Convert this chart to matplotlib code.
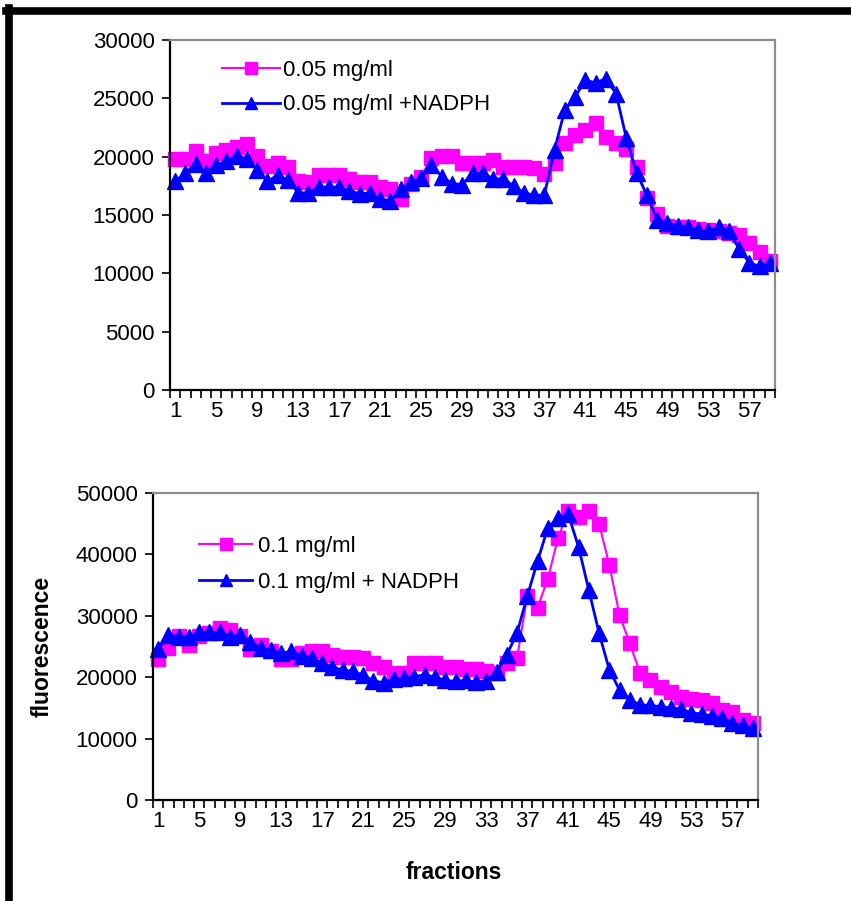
import numpy as np
import matplotlib
matplotlib.use('Agg')
import matplotlib.pyplot as plt
from matplotlib.lines import Line2D

plt.rcParams['font.family'] = ['Liberation Sans', 'DejaVu Sans']

fractions = np.arange(1, 60)
tick_labels = [str(i) for i in range(1, 58, 4)]

# top panel, 0.05 mg/ml
top_plain = [19800, 19800, 20500, 19600, 20300, 20600, 20800, 21100, 20100, 19200,
             19500, 19100, 17900, 17800, 18400, 18400, 18400, 18100, 17800, 17800,
             17400, 17200, 16400, 17700, 18300, 19900, 20100, 20100, 19500, 19500,
             19500, 19700, 19100, 19100, 19100, 19000, 18500, 19500, 21200, 21900,
             22300, 22900, 21700, 21200, 20700, 19100, 16500, 15100, 14100, 14000,
             14000, 13800, 13700, 13600, 13500, 13300, 12600, 11800, 11100]
top_nadph = [17900, 18600, 19400, 18600, 19300, 19600, 20100, 19800, 18900, 17900,
             18400, 18000, 16900, 16900, 17400, 17400, 17400, 17100, 16800, 16900,
             16400, 16200, 17200, 17800, 18200, 19300, 18300, 17700, 17600, 18600,
             18600, 18100, 18100, 17500, 16900, 16700, 16700, 20600, 24000, 25100,
             26600, 26300, 26700, 25400, 21600, 18600, 16700, 14600, 14300, 14100,
             14000, 13700, 13600, 14000, 13600, 12100, 10900, 10600, 10900]

# bottom panel, 0.1 mg/ml
bot_plain = [23000, 24700, 26700, 25200, 26700, 27200, 28000, 27700, 26700, 24600,
             25200, 24300, 22900, 22900, 24000, 24300, 24300, 23600, 23300, 23300,
             23100, 22300, 21700, 20700, 20700, 22300, 22300, 22300, 21700, 21700,
             21300, 21300, 21000, 20700, 22300, 23100, 33200, 31300, 36000, 42700,
             47000, 46100, 47000, 45000, 38300, 30100, 25500, 20700, 19500, 18400,
             17600, 16800, 16500, 16300, 15800, 14700, 14300, 13000, 12500]
bot_nadph = [24600, 26900, 26600, 26600, 27300, 27300, 27300, 26600, 26900, 25800,
             24800, 24400, 23900, 24200, 23500, 23200, 22300, 21700, 21100, 21000,
             20300, 19400, 19100, 19700, 19900, 20100, 20400, 20000, 19500, 19300,
             19500, 19200, 19400, 20900, 23600, 27200, 33200, 38900, 44300, 46000,
             46500, 41200, 34200, 27200, 21200, 17900, 16300, 15500, 15400, 15200,
             15000, 14800, 14200, 14000, 13700, 13400, 12500, 12200, 11700]

W, H = 851, 901
fig = plt.figure(figsize=(W/100, H/100), dpi=100)

def style_axes(ax, ymax):
    ax.set_xlim(0.5, 59.5)
    ax.set_ylim(0, ymax)
    ax.set_yticks(np.arange(0, ymax + 1, 5000 if ymax == 30000 else 10000))
    ax.set_xticks(range(1, 58, 4))
    ax.set_xticklabels(tick_labels)
    ax.set_xticks(np.arange(0.5, 60, 1), minor=True)
    ax.tick_params(axis='x', which='major', length=0, labelsize=16, pad=8)
    ax.tick_params(axis='x', which='minor', length=6, width=1.2, direction='out')
    ax.tick_params(axis='y', length=6, width=1.2, direction='out', labelsize=16, pad=5)
    for s in ['left', 'bottom']:
        ax.spines[s].set_color('black')
        ax.spines[s].set_linewidth(1.6)
    for s in ['top', 'right']:
        ax.spines[s].set_color('#8c8c8c')
        ax.spines[s].set_linewidth(1.6)

ax1 = fig.add_axes([170/W, 1 - 390/H, 605/W, 350/H])
ax1.plot(fractions, top_plain, color='#ff00ff', lw=1.5, marker='s', ms=10,
         mec='#ff00ff', label='0.05 mg/ml', clip_on=False)
ax1.plot(fractions, top_nadph, color='#0000ff', lw=2, marker='^', ms=11,
         mec='#0000ff', label='0.05 mg/ml +NADPH', clip_on=False)
style_axes(ax1, 30000)
ax1.legend(loc='upper left', bbox_to_anchor=(0.053, 1.0), frameon=False,
           fontsize=16, handlelength=2.6, labelspacing=0.6, handletextpad=0.15,
           markerscale=0.85)

ax2 = fig.add_axes([153/W, 1 - 800/H, 605/W, 307/H])
ax2.plot(fractions, bot_plain, color='#ff00ff', lw=1.5, marker='s', ms=10,
         mec='#ff00ff', label='0.1 mg/ml', clip_on=False)
ax2.plot(fractions, bot_nadph, color='#0000ff', lw=2, marker='^', ms=11,
         mec='#0000ff', label='0.1 mg/ml + NADPH', clip_on=False)
style_axes(ax2, 50000)
ax2.legend(loc='upper left', bbox_to_anchor=(0.043, 0.925), frameon=False,
           fontsize=16, handlelength=2.4, labelspacing=0.68, handletextpad=0.25,
           markerscale=0.85)
ax2.set_ylabel('fluorescence', fontsize=16.5, fontweight='bold')
ax2.yaxis.set_label_coords(-0.165, 0.5)
ax2.set_xlabel('fractions', fontsize=16.5, fontweight='bold')
ax2.xaxis.set_label_coords(0.497, -0.2)

# thick frame around the figure
fig.add_artist(Line2D([6/W, 1], [1 - 11/H, 1 - 11/H], color='black', lw=5.5))
fig.add_artist(Line2D([8.5/W, 8.5/W], [0, 1 - 8/H], color='black', lw=5.5))

fig.savefig('out.png', dpi=100)
